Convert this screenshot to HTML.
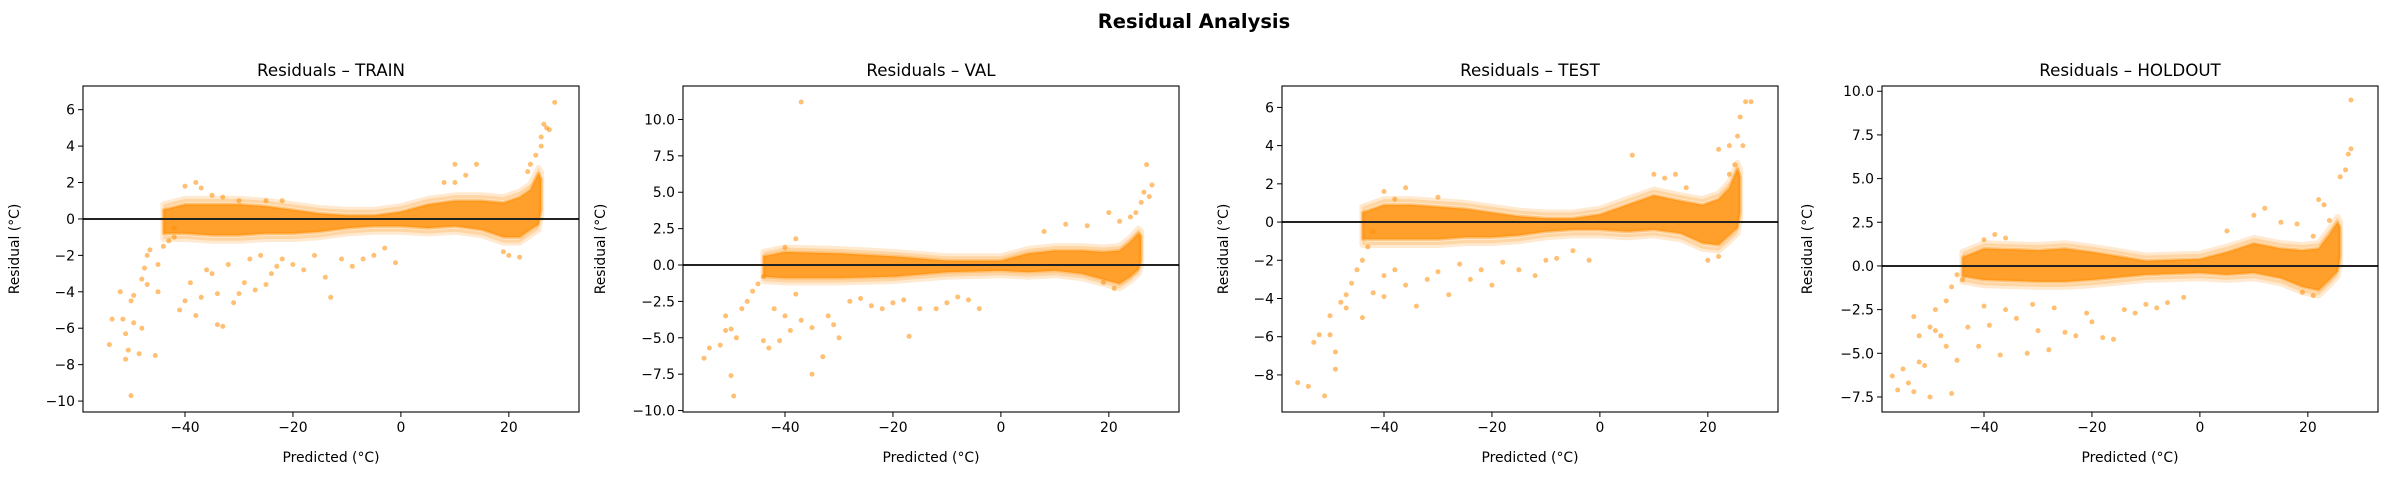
<!DOCTYPE html>
<html><head><meta charset="utf-8"><style>
html,body{margin:0;padding:0;background:#fff;}
svg{display:block;font-family:"DejaVu Sans","Liberation Sans",sans-serif;}
</style></head><body>
<svg id="fig" width="2389" height="478" viewBox="0 0 2389 478">
<text x="1194" y="28" text-anchor="middle" font-size="19.5" font-weight="bold">Residual Analysis</text>
</svg>
<script>
// ---- data ----
const xTicks = [-40, -20, 0, 20];
const trainYTicks = [-10, -8, -6, -4, -2, 0, 2, 4, 6];
const valYTicks = [-10, -7.5, -5, -2.5, 0, 2.5, 5, 7.5, 10];
const testYTicks = [-8, -6, -4, -2, 0, 2, 4, 6];
const holdYTicks = [-7.5, -5, -2.5, 0, 2.5, 5, 7.5, 10];

const trainBandX  = [-44,-40,-35,-30,-25,-20,-15,-10,-5,0,5,10,15,19,22,24,25.5,26];
const trainBandLo = [-0.8,-0.8,-0.9,-0.9,-0.8,-0.8,-0.7,-0.5,-0.4,-0.4,-0.5,-0.4,-0.6,-1.0,-1.0,-0.6,-0.3,0.5];
const trainBandHi = [0.5,0.8,0.8,0.8,0.7,0.5,0.3,0.2,0.2,0.4,0.8,1.0,1.0,0.9,1.2,1.6,2.5,2.2];
const trainX = [-54,-53.5,-52,-51.5,-51,-51,-50.5,-50,-50,-49.5,-49.5,-48.5,-48,-48,-47.5,-47,-47,-46.5,-45.5,-45,-45,-44,-43,-42,-42,-40,-39,-38,-37,-36,-35,-34,-33,-32,-31,-30,-29,-28,-27,-26,-25,-24,-23,-22,-20,-18,-16,-14,-13,-11,-9,-7,-5,-3,-1,-40,-38,-37,-35,-33,-30,-25,-22,10,10,14,8,12,20,22,19,24,25,26,27,27.5,26.5,28.5,26,23.5,-34,-41];
const trainY = [-6.9,-5.5,-4,-5.5,-7.7,-6.3,-7.2,-9.7,-4.5,-4.2,-5.7,-7.4,-6,-3.3,-2.7,-2,-3.6,-1.7,-7.5,-4,-2.5,-1.5,-1.2,-1,-0.5,-4.5,-3.5,-5.3,-4.3,-2.8,-3,-4.1,-5.9,-2.5,-4.6,-4.1,-3.5,-2.2,-3.9,-2,-3.6,-3,-2.6,-2.2,-2.5,-2.8,-2,-3.2,-4.3,-2.2,-2.6,-2.2,-2,-1.6,-2.4,1.8,2,1.7,1.3,1.2,1,1,1,2,3,3,2,2.4,-2,-2.1,-1.8,3,3.5,4,5,4.9,5.2,6.4,4.5,2.6,-5.8,-5];

const valBandX  = [-44,-40,-30,-20,-10,0,5,10,15,19,22,24,25.5,26];
const valBandLo = [-0.8,-0.9,-0.9,-0.8,-0.5,-0.4,-0.5,-0.4,-0.6,-1.0,-1.3,-0.8,-0.3,0.3];
const valBandHi = [0.6,0.9,0.8,0.6,0.3,0.3,0.8,1.0,1.0,0.9,1.0,1.6,2.2,2.0];
const valX = [-55,-54,-52,-51,-51,-50,-50,-49.5,-49,-48,-47,-46,-45,-44,-44,-43,-42,-41,-40,-39,-38,-37,-37,-35,-35,-33,-32,-31,-30,-28,-26,-24,-22,-20,-18,-17,-15,-12,-10,-8,-6,-4,-38,-40,8,12,16,20,22,24,25,26,26.5,27,28,27.5,21,19];
const valY = [-6.4,-5.7,-5.5,-4.5,-3.5,-4.4,-7.6,-9,-5,-3,-2.5,-1.8,-1.3,-0.8,-5.2,-5.7,-3,-5.2,-3.5,-4.5,-2,11.2,-3.8,-7.5,-4.3,-6.3,-3.5,-4.1,-5,-2.5,-2.3,-2.8,-3,-2.6,-2.4,-4.9,-3,-3,-2.6,-2.2,-2.4,-3,1.8,1.2,2.3,2.8,2.7,3.6,3,3.3,3.6,4.3,5,6.9,5.5,4.7,-1.6,-1.2];

const testBandX  = [-44,-40,-35,-30,-25,-20,-15,-10,-5,0,5,10,15,19,22,24,25.5,26];
const testBandLo = [-0.9,-0.9,-0.9,-0.9,-0.8,-0.8,-0.7,-0.5,-0.4,-0.4,-0.5,-0.4,-0.6,-1.1,-1.2,-0.7,-0.3,0.5];
const testBandHi = [0.5,0.9,0.9,0.8,0.7,0.5,0.3,0.2,0.2,0.4,0.9,1.4,1.1,0.9,1.2,1.8,2.8,2.4];
const testX = [-56,-54,-53,-52,-51,-50,-50,-49,-49,-48,-47,-47,-46,-45,-44,-43,-42,-44,-42,-40,-40,-38,-36,-34,-32,-30,-28,-26,-24,-22,-20,-18,-15,-12,-10,-8,-5,-2,-40,-38,-36,-30,6,10,12,14,16,20,22,22,24,25,25.5,26,26.5,27,28,24];
const testY = [-8.4,-8.6,-6.3,-5.9,-9.1,-5.9,-4.9,-6.8,-7.7,-4.2,-4.5,-3.8,-3.2,-2.5,-2,-1.3,-0.5,-5,-3.7,-2.8,-3.9,-2.5,-3.3,-4.4,-3,-2.6,-3.8,-2.2,-3,-2.5,-3.3,-2.1,-2.5,-2.8,-2,-1.9,-1.5,-2,1.6,1.2,1.8,1.3,3.5,2.5,2.3,2.5,1.8,-2,-1.8,3.8,2.5,3,4.5,5.5,4,6.3,6.3,4];

const holdBandX  = [-44,-40,-30,-25,-20,-10,0,5,10,15,19,22,24,25.5,26];
const holdBandLo = [-0.6,-0.8,-0.9,-0.9,-0.8,-0.5,-0.4,-0.5,-0.4,-0.7,-1.2,-1.4,-0.8,-0.3,0.5];
const holdBandHi = [0.5,1.0,0.9,1.0,0.8,0.3,0.4,0.8,1.3,1.0,0.9,1.0,1.8,2.5,2.2];
const holdX = [-57,-56,-55,-54,-53,-53,-52,-52,-51,-50,-50,-49,-49,-48,-47,-47,-46,-46,-45,-45,-44,-43,-41,-40,-39,-37,-36,-34,-32,-31,-30,-28,-27,-25,-23,-21,-20,-18,-16,-14,-12,-10,-8,-6,-3,-40,-38,-36,5,10,12,15,18,21,22,23,24,26,27,27.5,28,28,21,19];
const holdY = [-6.3,-7.1,-5.9,-6.7,-7.2,-2.9,-4,-5.5,-5.7,-7.5,-3.5,-2.5,-3.7,-4,-4.6,-2,-7.3,-1.2,-5.4,-0.5,-0.8,-3.5,-4.6,-2.3,-3.4,-5.1,-2.5,-3,-5,-2.2,-3.7,-4.8,-2.4,-3.8,-4,-2.7,-3.2,-4.1,-4.2,-2.5,-2.7,-2.2,-2.4,-2.1,-1.8,1.5,1.8,1.6,2,2.9,3.3,2.5,2.4,1.7,3.8,3.5,2.6,5.1,5.5,6.4,6.7,9.5,-1.7,-1.5];

// ---- layout ----
const NS = 'http://www.w3.org/2000/svg';
const svg = document.getElementById('fig');
const panels = [
  {key:'train', title:'Residuals \u2013 TRAIN', left:83, ylim:[-10.6,7.3], yt:trainYTicks, dec:0, yl:64, bx:trainBandX, blo:trainBandLo, bhi:trainBandHi, px:trainX, py:trainY},
  {key:'val', title:'Residuals \u2013 VAL', left:683, ylim:[-10.1,12.3], yt:valYTicks, dec:1, yl:78, bx:valBandX, blo:valBandLo, bhi:valBandHi, px:valX, py:valY},
  {key:'test', title:'Residuals \u2013 TEST', left:1282, ylim:[-9.94,7.12], yt:testYTicks, dec:0, yl:54, bx:testBandX, blo:testBandLo, bhi:testBandHi, px:testX, py:testY},
  {key:'holdout', title:'Residuals \u2013 HOLDOUT', left:1882, ylim:[-8.36,10.3], yt:holdYTicks, dec:1, yl:70, bx:holdBandX, blo:holdBandLo, bhi:holdBandHi, px:holdX, py:holdY}
];
const W = 496, TOP = 86, BOT = 412, XLIM = [-58.9, 33];
function mk(tag, attrs, parent){const e=document.createElementNS(NS,tag);for(const k in attrs)e.setAttribute(k,attrs[k]);(parent||svg).appendChild(e);return e;}
function fmt(v,d){return (v<0?'\u2212':'')+Math.abs(v).toFixed(d);}

panels.forEach(p=>{
  const g = mk('g',{});
  
  
  const sx = v => p.left + (v - XLIM[0]) / (XLIM[1]-XLIM[0]) * W;
  const sy = v => BOT - (v - p.ylim[0]) / (p.ylim[1]-p.ylim[0]) * (BOT-TOP);
  const cp = mk('clipPath',{id:'clip-'+p.key},g);
  mk('rect',{x:p.left,y:TOP,width:W,height:BOT-TOP},cp);
  const plot = mk('g',{'clip-path':'url(#clip-'+p.key+')'},g);
  function bandPath(pad){
    let d='';
    p.bx.forEach((x,i)=>{d+=(i?'L':'M')+sx(x).toFixed(1)+','+sy(p.bhi[i]+pad).toFixed(1);});
    for(let i=p.bx.length-1;i>=0;i--) d+='L'+sx(p.bx[i]).toFixed(1)+','+sy(p.blo[i]-pad).toFixed(1);
    return d+'Z';
  }
  const halo = mk('path',{d:bandPath(0.3),fill:'#ff8c00','fill-opacity':'0.22',stroke:'#ff8c00','stroke-opacity':'0.18','stroke-width':'6','stroke-linejoin':'round'},plot);
  
  
  const band = mk('path',{d:bandPath(0),fill:'#ff8c00','fill-opacity':'0.78',stroke:'#ff8c00','stroke-opacity':'0.4','stroke-width':'3','stroke-linejoin':'round'},plot);
  
  
  p.px.forEach((x,i)=>{
    const c = mk('circle',{cx:sx(x).toFixed(1),cy:sy(p.py[i]).toFixed(1),r:'2.5',fill:'#ff8c00','fill-opacity':'0.55'},plot);
    
    
  });
  const zl = mk('line',{x1:p.left,x2:p.left+W,y1:sy(0),y2:sy(0),stroke:'#222','stroke-width':'2'},g);
  
  
  const fr = mk('rect',{x:p.left,y:TOP,width:W,height:BOT-TOP,fill:'none',stroke:'#000','stroke-width':'1.1'},g);
  
  
  xTicks.forEach(t=>{
    const x=sx(t);
    mk('line',{x1:x,x2:x,y1:BOT,y2:BOT+5,stroke:'#000','stroke-width':'1'},g);
    const tl = mk('text',{x:x,y:BOT+20,'text-anchor':'middle','font-size':'13.9'},g);
    tl.textContent = fmt(t,0);
    
    
  });
  p.yt.forEach(t=>{
    const y=sy(t);
    mk('line',{x1:p.left-5,x2:p.left,y1:y,y2:y,stroke:'#000','stroke-width':'1'},g);
    const tl = mk('text',{x:p.left-8,y:y+5,'text-anchor':'end','font-size':'13.9'},g);
    tl.textContent = fmt(t,p.dec);
    
    
  });
  const ti = mk('text',{x:p.left+W/2,y:76,'text-anchor':'middle','font-size':'16.7'},g);
  ti.textContent = p.title;
  
  
  const xl = mk('text',{x:p.left+W/2,y:462,'text-anchor':'middle','font-size':'13.9'},g);
  xl.textContent = 'Predicted (\u00b0C)';
  
  
  const yx = p.left-p.yl, yy=(TOP+BOT)/2;
  const yl = mk('text',{x:yx,y:yy,'text-anchor':'middle','font-size':'13.9',transform:'rotate(-90 '+yx+' '+yy+')'},g);
  yl.textContent = 'Residual (\u00b0C)';
  
  
});
</script>
</body></html>
